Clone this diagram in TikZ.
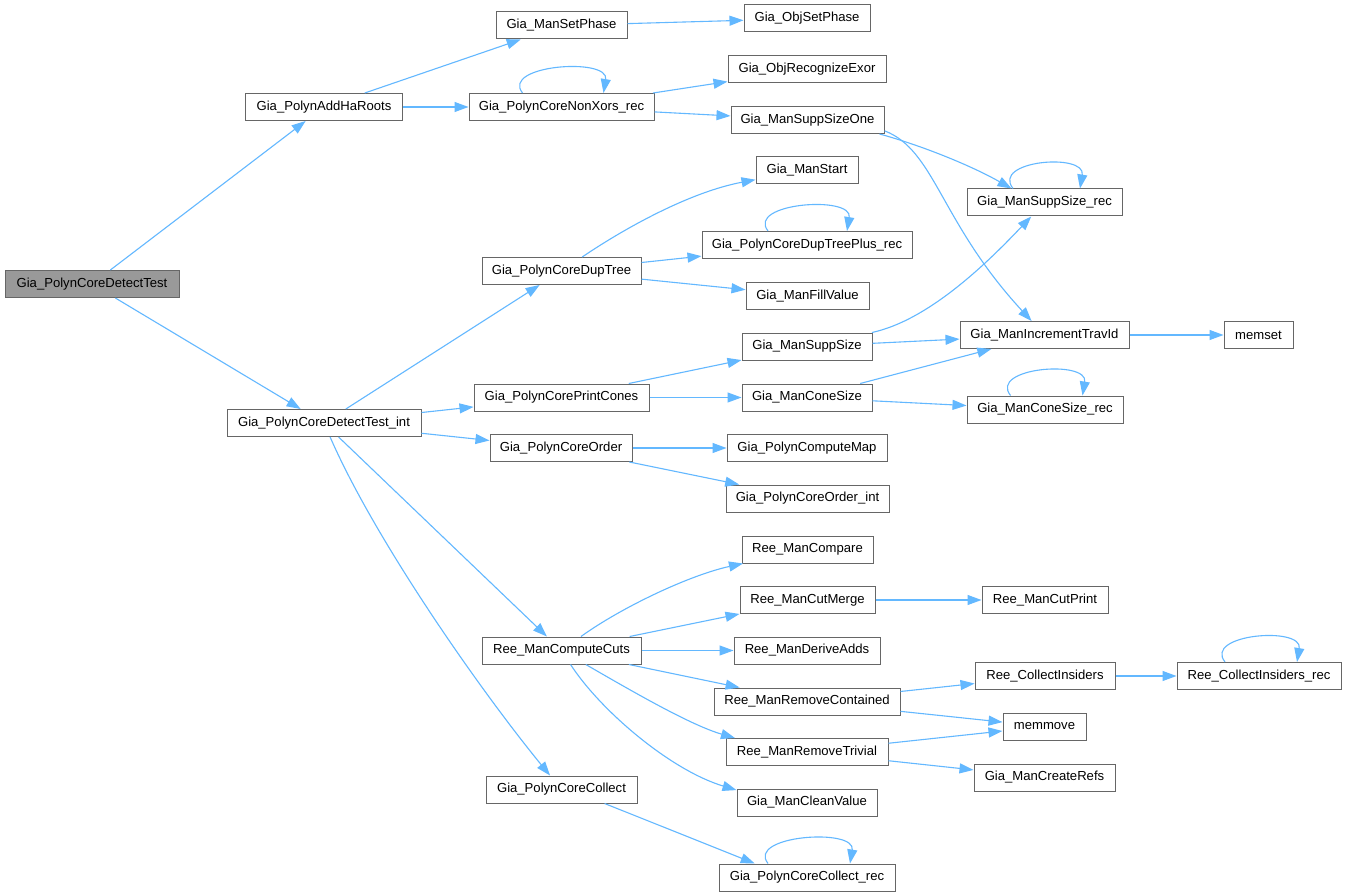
\documentclass[tikz,border=0pt]{standalone}
\usepackage{fontspec}
\setmainfont{Liberation Sans}
\usetikzlibrary{arrows.meta,calc}
\definecolor{edgeblue}{HTML}{63B8FF}
\definecolor{boxgray}{HTML}{666666}
\definecolor{mainfill}{HTML}{999999}
\begin{document}
\begin{tikzpicture}[x=1pt,y=-1pt,
  fn/.style={draw=boxgray, line width=1pt, fill=white, minimum height=27pt, inner sep=0pt, font=\fontsize{13.1}{15}\selectfont, text=black},
  edge/.style={draw=edgeblue, line width=1.1pt, -{Triangle[length=14pt,width=10pt]}},
]
\useasboundingbox[fill=white] (0,0) rectangle (1347,896);
% nodes
\node[fn, minimum width=174pt, fill=mainfill] (dt) at (92,284) {Gia\_PolynCoreDetectTest};
\node[fn, minimum width=157pt] (ahr) at (324,107) {Gia\_PolynAddHaRoots};
\node[fn, minimum width=194pt] (dti) at (324,423) {Gia\_PolynCoreDetectTest\_int};
\node[fn, minimum width=131pt] (msp) at (561.5,25.5) {Gia\_ManSetPhase};
\node[fn, minimum width=126pt] (osp) at (807,18.5) {Gia\_ObjSetPhase};
\node[fn, minimum width=158pt] (ore) at (807,69.5) {Gia\_ObjRecognizeExor};
\node[fn, minimum width=185pt] (nx) at (561.5,107) {Gia\_PolynCoreNonXors\_rec};
\node[fn, minimum width=153pt] (sso) at (807.5,120) {Gia\_ManSuppSizeOne};
\node[fn, minimum width=102pt] (mst) at (807,170) {Gia\_ManStart};
\node[fn, minimum width=210pt] (dtp) at (807,245) {Gia\_PolynCoreDupTreePlus\_rec};
\node[fn, minimum width=159pt] (dup) at (561.5,271) {Gia\_PolynCoreDupTree};
\node[fn, minimum width=123pt] (mfv) at (807.5,296) {Gia\_ManFillValue};
\node[fn, minimum width=130pt] (mss) at (807,346.5) {Gia\_ManSuppSize};
\node[fn, minimum width=175pt] (pc) at (561.5,397.5) {Gia\_PolynCorePrintCones};
\node[fn, minimum width=130pt] (mcs) at (807,397.5) {Gia\_ManConeSize};
\node[fn, minimum width=155pt] (ssr) at (1044.5,202.5) {Gia\_ManSuppSize\_rec};
\node[fn, minimum width=169pt] (mit) at (1044.5,335) {Gia\_ManIncrementTravId};
\node[fn, minimum width=69pt] (mset) at (1258.5,335) {memset};
\node[fn, minimum width=156pt] (csr) at (1045,409.5) {Gia\_ManConeSize\_rec};
\node[fn, minimum width=142pt] (pco) at (561,448) {Gia\_PolynCoreOrder};
\node[fn, minimum width=160pt] (pcm) at (807,448) {Gia\_PolynComputeMap};
\node[fn, minimum width=163pt] (poi) at (807.5,498.5) {Gia\_PolynCoreOrder\_int};
\node[fn, minimum width=131pt] (rmc) at (807.5,549.5) {Ree\_ManCompare};
\node[fn, minimum width=135pt] (rcm) at (807.5,600) {Ree\_ManCutMerge};
\node[fn, minimum width=159pt] (rcc) at (561.5,650.5) {Ree\_ManComputeCuts};
\node[fn, minimum width=146pt] (rda) at (807,650.5) {Ree\_ManDeriveAdds};
\node[fn, minimum width=186pt] (rrc) at (807,701.5) {Ree\_ManRemoveContained};
\node[fn, minimum width=162pt] (rrt) at (807,752) {Ree\_ManRemoveTrivial};
\node[fn, minimum width=151pt] (pcc) at (561.5,789.5) {Gia\_PolynCoreCollect};
\node[fn, minimum width=140pt] (mcv) at (807,802.5) {Gia\_ManCleanValue};
\node[fn, minimum width=176pt] (pcr) at (807,877.5) {Gia\_PolynCoreCollect\_rec};
\node[fn, minimum width=126pt] (rcp) at (1045,600) {Ree\_ManCutPrint};
\node[fn, minimum width=140pt] (rci) at (1045,676) {Ree\_CollectInsiders};
\node[fn, minimum width=164pt] (rcr) at (1259,676) {Ree\_CollectInsiders\_rec};
\node[fn, minimum width=83pt] (mmv) at (1044.5,726.5) {memmove};
\node[fn, minimum width=141pt] (mcr) at (1044.5,777.5) {Gia\_ManCreateRefs};
% edges
\draw[edge] (dt) -- (ahr);
\draw[edge] (dt) -- (dti);
\draw[edge] (ahr) -- (msp);
\draw[edge] (ahr) -- (nx);
\draw[edge] (msp) -- (osp);
\draw[edge] ($(nx.north)+(-39,0)$) .. controls +(-22,-28) and +(6,-36) .. ($(nx.north)+(42,0)$);
\draw[edge] (nx) -- (ore);
\draw[edge] (nx) -- (sso);
\draw[edge] (sso.-11) .. controls (920,145) and (970,165) .. (ssr.157);
\draw[edge] (sso.-8) .. controls (935,150) and (940,222) .. (mit);
\draw[edge] (dti) -- (dup);
\draw[edge] (dup) .. controls (625,228) and (690,192) .. (mst);
\draw[edge] (dup) -- (dtp);
\draw[edge] ($(dtp.north)+(-39,0)$) .. controls +(-22,-28) and +(6,-36) .. ($(dtp.north)+(40,0)$);
\draw[edge] (dup) -- (mfv);
\draw[edge] ($(ssr.north)+(-31.5,0)$) .. controls +(-22,-28) and +(6,-36) .. ($(ssr.north)+(35.5,0)$);
\draw[edge] (dti) -- (pc);
\draw[edge] (dti) -- (pco);
\draw[edge] (dti) -- (rcc);
\draw[edge] (dti) .. controls (375,540) and (480,690) .. (pcc);
\draw[edge] (pc) -- (mss);
\draw[edge] (pc) -- (mcs);
\draw[edge] (mss) .. controls (930,320) and (990,260) .. (ssr);
\draw[edge] (mss) -- (mit);
\draw[edge] (mcs) -- (mit);
\draw[edge] (mcs) -- (csr);
\draw[edge] ($(csr.north)+(-34.5,0)$) .. controls +(-22,-28) and +(6,-36) .. ($(csr.north)+(37.5,0)$);
\draw[edge] (mit) -- (mset);
\draw[edge] (pco) -- (pcm);
\draw[edge] (pco) -- (poi);
\draw[edge] (rcc) .. controls (622,607) and (690,575) .. (rmc);
\draw[edge] (rcc) -- (rcm);
\draw[edge] (rcc) -- (rda);
\draw[edge] (rcc) -- (rrc);
\draw[edge] (rcc) .. controls (630,690) and (690,725) .. (rrt.169);
\draw[edge] (rcc) .. controls (600,710) and (670,770) .. (mcv.170);
\draw[edge] (rcm) -- (rcp);
\draw[edge] (pcc.-18) -- (pcr.165);
\draw[edge] ($(pcr.north)+(-39,0)$) .. controls +(-22,-28) and +(6,-36) .. ($(pcr.north)+(43,0)$);
\draw[edge] (rrc) -- (rci);
\draw[edge] (rrc) -- (mmv);
\draw[edge] (rrt) -- (mmv);
\draw[edge] (rrt) -- (mcr);
\draw[edge] (rci) -- (rcr);
\draw[edge] ($(rcr.north)+(-34,0)$) .. controls +(-22,-28) and +(6,-36) .. ($(rcr.north)+(38,0)$);
\end{tikzpicture}
\end{document}
